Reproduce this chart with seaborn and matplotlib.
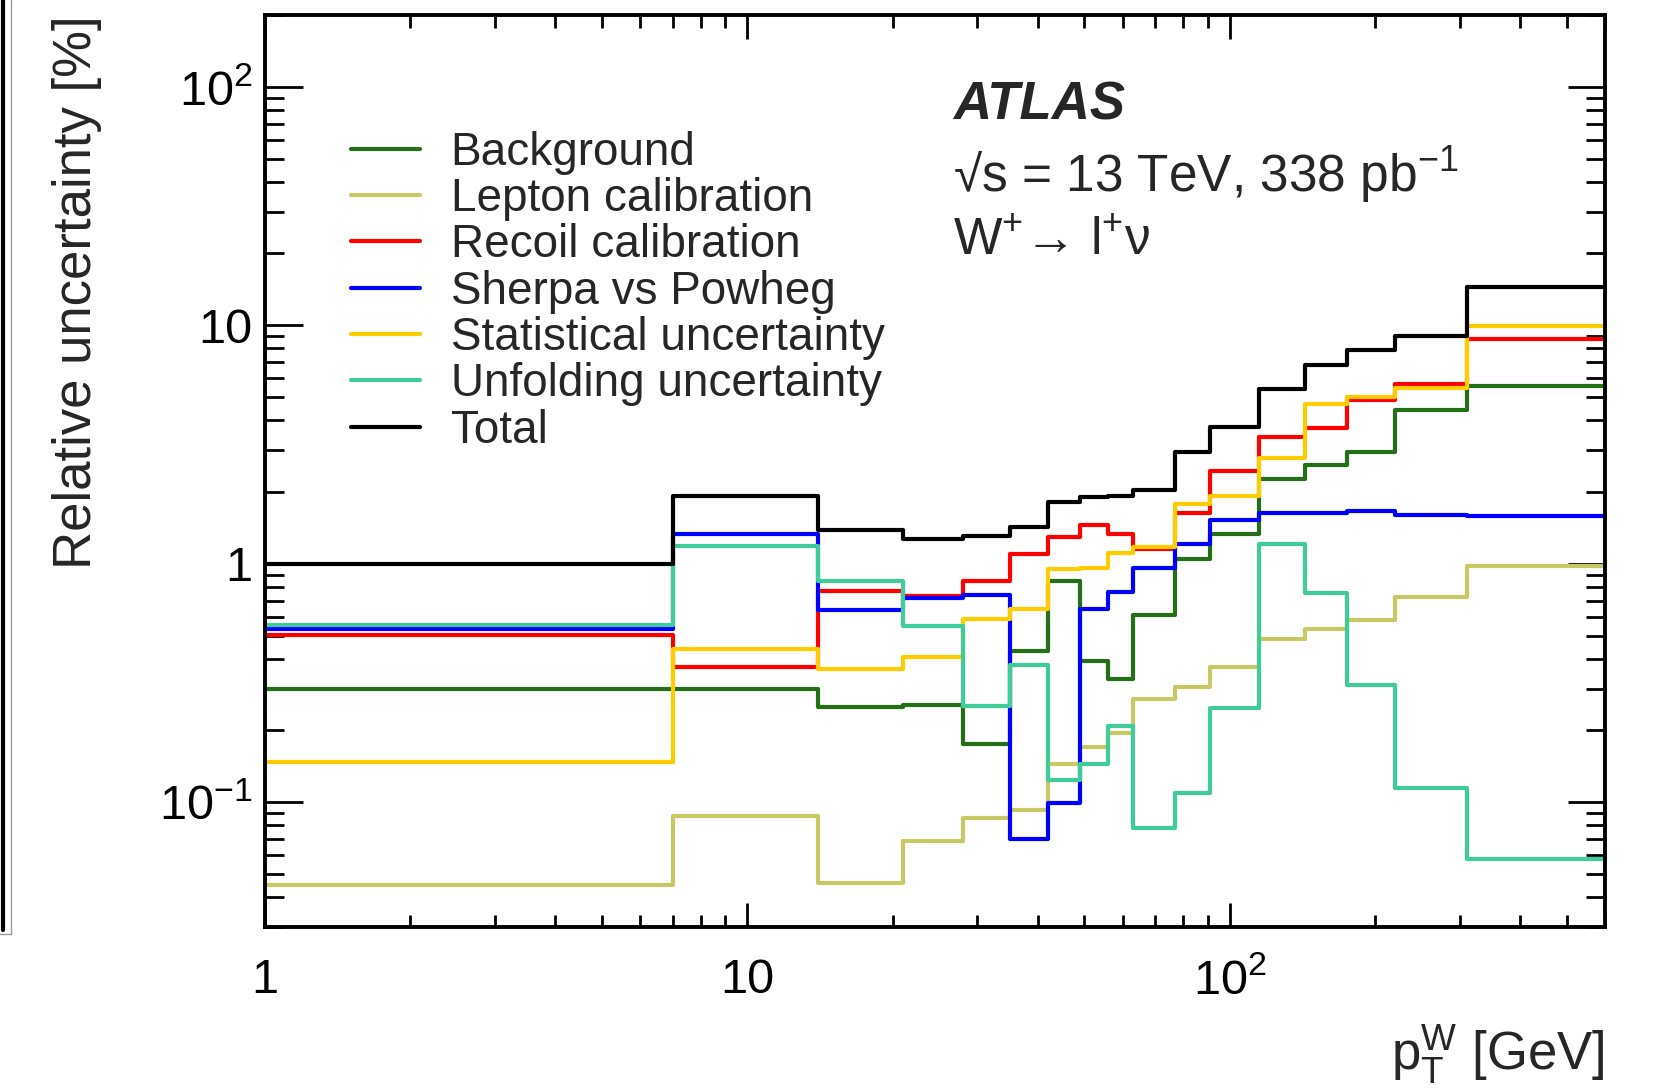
import pandas as pd
import matplotlib
matplotlib.use('Agg')
import matplotlib.pyplot as plt
import matplotlib.ticker as mticker
from matplotlib.lines import Line2D
import seaborn as sns

# bin edges in pT^W [GeV] (first bin starts at 0, drawn from 1 on log axis)
edges = [1, 7, 14, 21, 28, 35, 42, 49, 56, 63, 77, 91, 115, 143, 175, 220, 310, 600]

# relative uncertainty per bin [%]
background = [0.30, 0.30, 0.25, 0.255, 0.176, 0.43, 0.85, 0.39, 0.33, 0.61, 1.05, 1.33, 2.27, 2.60, 2.93, 4.41, 5.58]
lepton = [0.045, 0.088, 0.046, 0.069, 0.086, 0.093, 0.145, 0.171, 0.195, 0.272, 0.304, 0.369, 0.485, 0.531, 0.579, 0.725, 0.98]
recoil = [0.505, 0.37, 0.77, 0.73, 0.85, 1.10, 1.29, 1.46, 1.33, 1.15, 1.64, 2.46, 3.39, 3.70, 4.86, 5.67, 8.75]
sherpa = [0.535, 1.33, 0.64, 0.72, 0.74, 0.0705, 0.0995, 0.648, 0.76, 0.96, 1.21, 1.53, 1.64, 1.63, 1.67, 1.60, 1.58]
stat = [0.148, 0.44, 0.363, 0.406, 0.589, 0.648, 0.953, 0.96, 1.11, 1.18, 1.78, 1.92, 2.78, 4.68, 4.99, 5.46, 9.95]
unfold = [0.555, 1.19, 0.85, 0.546, 0.253, 0.375, 0.124, 0.145, 0.208, 0.078, 0.109, 0.249, 1.21, 0.753, 0.31, 0.115, 0.0576]
total = [1.0, 1.93, 1.38, 1.27, 1.31, 1.42, 1.82, 1.91, 1.93, 2.03, 2.93, 3.76, 5.41, 6.81, 7.87, 9.04, 14.5]

labels = ['Background', 'Lepton calibration', 'Recoil calibration', 'Sherpa vs Powheg',
          'Statistical uncertainty', 'Unfolding uncertainty', 'Total']
colors = ['#237016', '#c8c864', '#ff0000', '#0000ff', '#ffcc00', '#40cc99', '#000000']
series = [background, lepton, recoil, sherpa, stat, unfold, total]

# long format table, last value repeated so the step reaches the last edge
rows = []
for name, vals in zip(labels, series):
    for x, v in zip(edges, vals + [vals[-1]]):
        rows.append({'pt': x, 'unc': v, 'source': name})
df = pd.DataFrame(rows)

sns.set_style('ticks')
plt.rcParams['font.family'] = ['Liberation Sans', 'DejaVu Sans']
plt.rcParams['mathtext.fontset'] = 'custom'
plt.rcParams['mathtext.rm'] = 'Liberation Sans'
plt.rcParams['mathtext.it'] = 'Liberation Sans:italic'
plt.rcParams['mathtext.bf'] = 'Liberation Sans:bold'

fig = plt.figure(figsize=(16.55, 10.92), dpi=100)
ax = fig.add_axes([265 / 1655, 1 - 927 / 1092, 1340 / 1655, 912 / 1092])

sns.lineplot(data=df, x='pt', y='unc', hue='source', hue_order=labels,
             palette=dict(zip(labels, colors)), drawstyle='steps-post',
             estimator=None, linewidth=3.0, legend=False, ax=ax)

ax.set_xscale('log')
ax.set_yscale('log')
ax.set_xlim(1, 600)
ax.set_ylim(0.03, 200)

ax.xaxis.set_major_locator(mticker.FixedLocator([1, 10, 100]))
ax.xaxis.set_major_formatter(mticker.FixedFormatter(['1', '10', r'$10^{2}$']))
ax.xaxis.set_minor_locator(mticker.LogLocator(base=10, subs=range(2, 10), numticks=20))
ax.xaxis.set_minor_formatter(mticker.NullFormatter())
ax.yaxis.set_major_locator(mticker.FixedLocator([0.1, 1, 10, 100]))
ax.yaxis.set_major_formatter(mticker.FixedFormatter([r'$10^{-1}$', '1', '10', r'$10^{2}$']))
ax.yaxis.set_minor_locator(mticker.LogLocator(base=10, subs=range(2, 10), numticks=20))
ax.yaxis.set_minor_formatter(mticker.NullFormatter())

ax.tick_params(axis='both', which='both', direction='in', top=True, right=True,
               width=2, color='black', labelsize=35, labelcolor='black')
ax.tick_params(axis='x', which='major', length=17, pad=22)
ax.tick_params(axis='x', which='minor', length=9)
ax.tick_params(axis='y', which='major', length=27, pad=9)
ax.tick_params(axis='y', which='minor', length=14)
for s in ax.spines.values():
    s.set_linewidth(2.8)
    s.set_color('black')

ax.set_ylabel('Relative uncertainty [%]', fontsize=38, loc='top')
ax.yaxis.set_label_coords(-0.122, 1.0)
ax.set_xlabel(r'$\mathrm{p}_{\mathrm{T}}^{\mathrm{W}}$ [GeV]', fontsize=38, loc='right')
ax.xaxis.set_label_coords(1.0, -0.105)

ax.text(0.5134, 0.885, 'ATLAS', fontsize=38, fontweight='bold', style='italic',
        transform=ax.transAxes, va='baseline')
ax.text(0.5134, 0.806, '√s = 13 TeV, 338 pb$^{-1}$', fontsize=37,
        transform=ax.transAxes, va='baseline')
ax.text(0.5134, 0.737, 'W$^{+}$→ l$^{+}$ν', fontsize=37,
        transform=ax.transAxes, va='baseline')

handles = [Line2D([], [], color=c, lw=3.0) for c in colors]
ax.legend(handles, labels, loc='upper left', bbox_to_anchor=(0.064, 0.873),
          frameon=False, fontsize=33, handlelength=1.5, handletextpad=0.68,
          labelspacing=0.05, borderpad=0, borderaxespad=0)

# frame edge of the neighbouring panel on the left
fig.add_artist(Line2D([0.002, 0.002], [1.0, 1 - 930 / 1092], color='black', lw=3,
                      transform=fig.transFigure))
fig.add_artist(Line2D([0.0065, 0.0065], [1.0, 1 - 934 / 1092], color='0.6', lw=1,
                      transform=fig.transFigure))
fig.add_artist(Line2D([0.0, 0.0065], [1 - 934 / 1092] * 2, color='0.6', lw=1,
                      transform=fig.transFigure))

fig.savefig('out.png', dpi=100)
